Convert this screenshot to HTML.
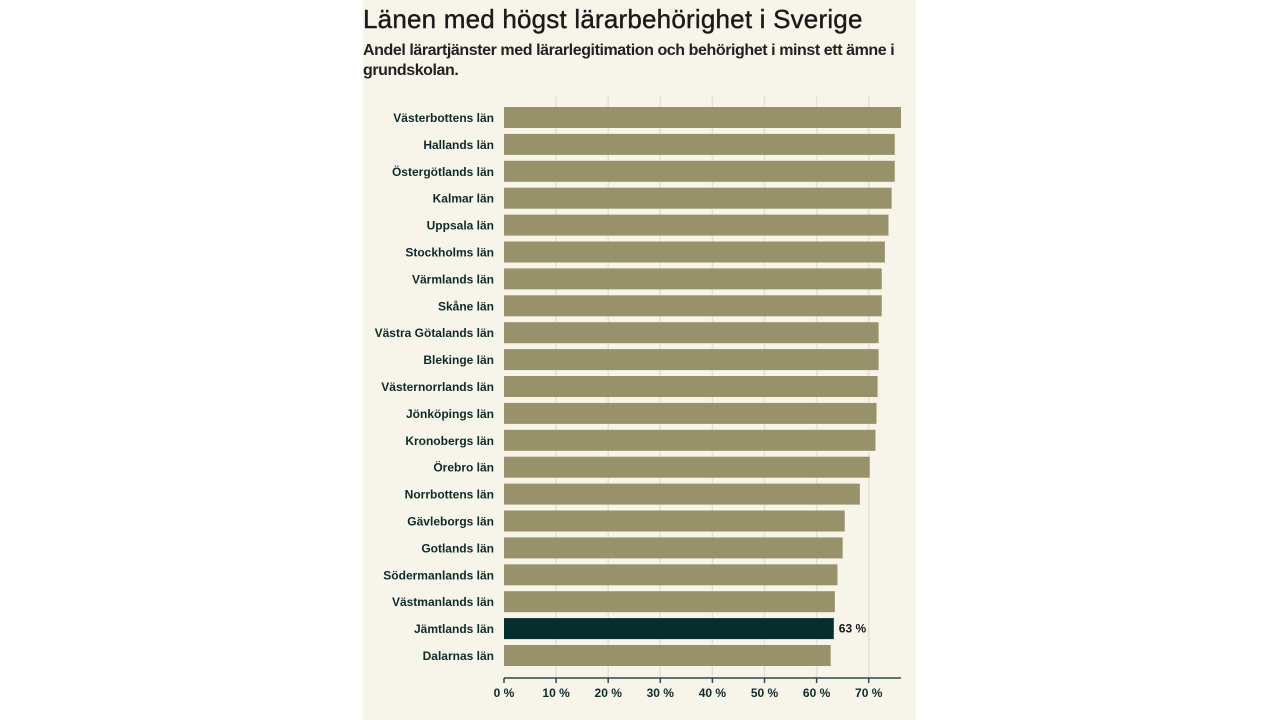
<!DOCTYPE html>
<html><head><meta charset="utf-8"><style>
body{margin:0;width:1280px;height:720px;background:#fff;overflow:hidden;font-family:"Liberation Sans",sans-serif}
#panel{position:absolute;left:363px;top:0;width:553px;height:720px;background:#f7f5ea}
h1{position:absolute;left:363px;top:4px;margin:0;font-size:26px;font-weight:normal;color:#1a1a1a;letter-spacing:0.2px;-webkit-text-stroke:0.4px #1a1a1a}
.sub{position:absolute;left:363px;top:41px;width:560px;margin:0;font-size:16px;font-weight:bold;line-height:20px;color:#222;letter-spacing:-0.42px}
svg{position:absolute;left:0;top:0}
</style></head><body>
<div id="panel"></div>
<h1>Länen med högst lärarbehörighet i Sverige</h1>
<p class="sub">Andel lärartjänster med lärarlegitimation och behörighet i minst ett ämne i<br>grundskolan.</p>
<svg id="chart" width="1280" height="720"></svg>
<script>
const categories=["Västerbottens län","Hallands län","Östergötlands län","Kalmar län","Uppsala län","Stockholms län","Värmlands län","Skåne län","Västra Götalands län","Blekinge län","Västernorrlands län","Jönköpings län","Kronobergs län","Örebro län","Norrbottens län","Gävleborgs län","Gotlands län","Södermanlands län","Västmanlands län","Jämtlands län","Dalarnas län"];
const values=[76.2,75.0,75.0,74.4,73.8,73.1,72.5,72.5,71.9,71.9,71.7,71.5,71.3,70.2,68.3,65.4,65.0,64.0,63.5,63.3,62.7];
const highlight="Jämtlands län";
const ticks=[0,10,20,30,40,50,60,70];
const ns="http://www.w3.org/2000/svg",svg=document.getElementById('chart');
const x=v=>504+v*5.21;
const y=i=>107+i*26.9;
function mk(t,a,txt){const e=document.createElementNS(ns,t);for(const k in a)e.setAttribute(k,a[k]);if(txt!==undefined)e.textContent=txt;svg.appendChild(e);return e;}
ticks.forEach(t=>{
 if(t>0){const g=mk('line',{x1:x(t),x2:x(t),y1:96,y2:678,stroke:'#e4e2d8','stroke-width':1.5});
 
 }
 const tk=mk('line',{x1:x(t),x2:x(t),y1:678,y2:683,stroke:'#2d4a48','stroke-width':1.5});
 
 
 const l=mk('text',{x:x(t),y:697,'text-anchor':'middle','font-size':12,'font-weight':'bold',fill:'#0d2b2b'},t+' %');
 
 
});
categories.forEach((c,i)=>{
 const hl=c===highlight;
 const b=mk('rect',{x:x(0),y:y(i),width:x(values[i])-x(0),height:21,fill:hl?'#062e2c':'#97926a'});
 
 
 const l=mk('text',{x:494,y:y(i)+15,'text-anchor':'end','font-size':12,'font-weight':'bold',fill:'#0d2b2b'},c);
 
 
 if(hl){const v=mk('text',{x:x(values[i])+5,y:y(i)+14.5,'font-size':12,'font-weight':'bold',fill:'#1a1a1a'},Math.round(values[i])+' %');
 
 }
});
const ax=mk('line',{x1:x(0),x2:901,y1:678,y2:678,stroke:'#2d4a48','stroke-width':1.5});


</script>
</body></html>
